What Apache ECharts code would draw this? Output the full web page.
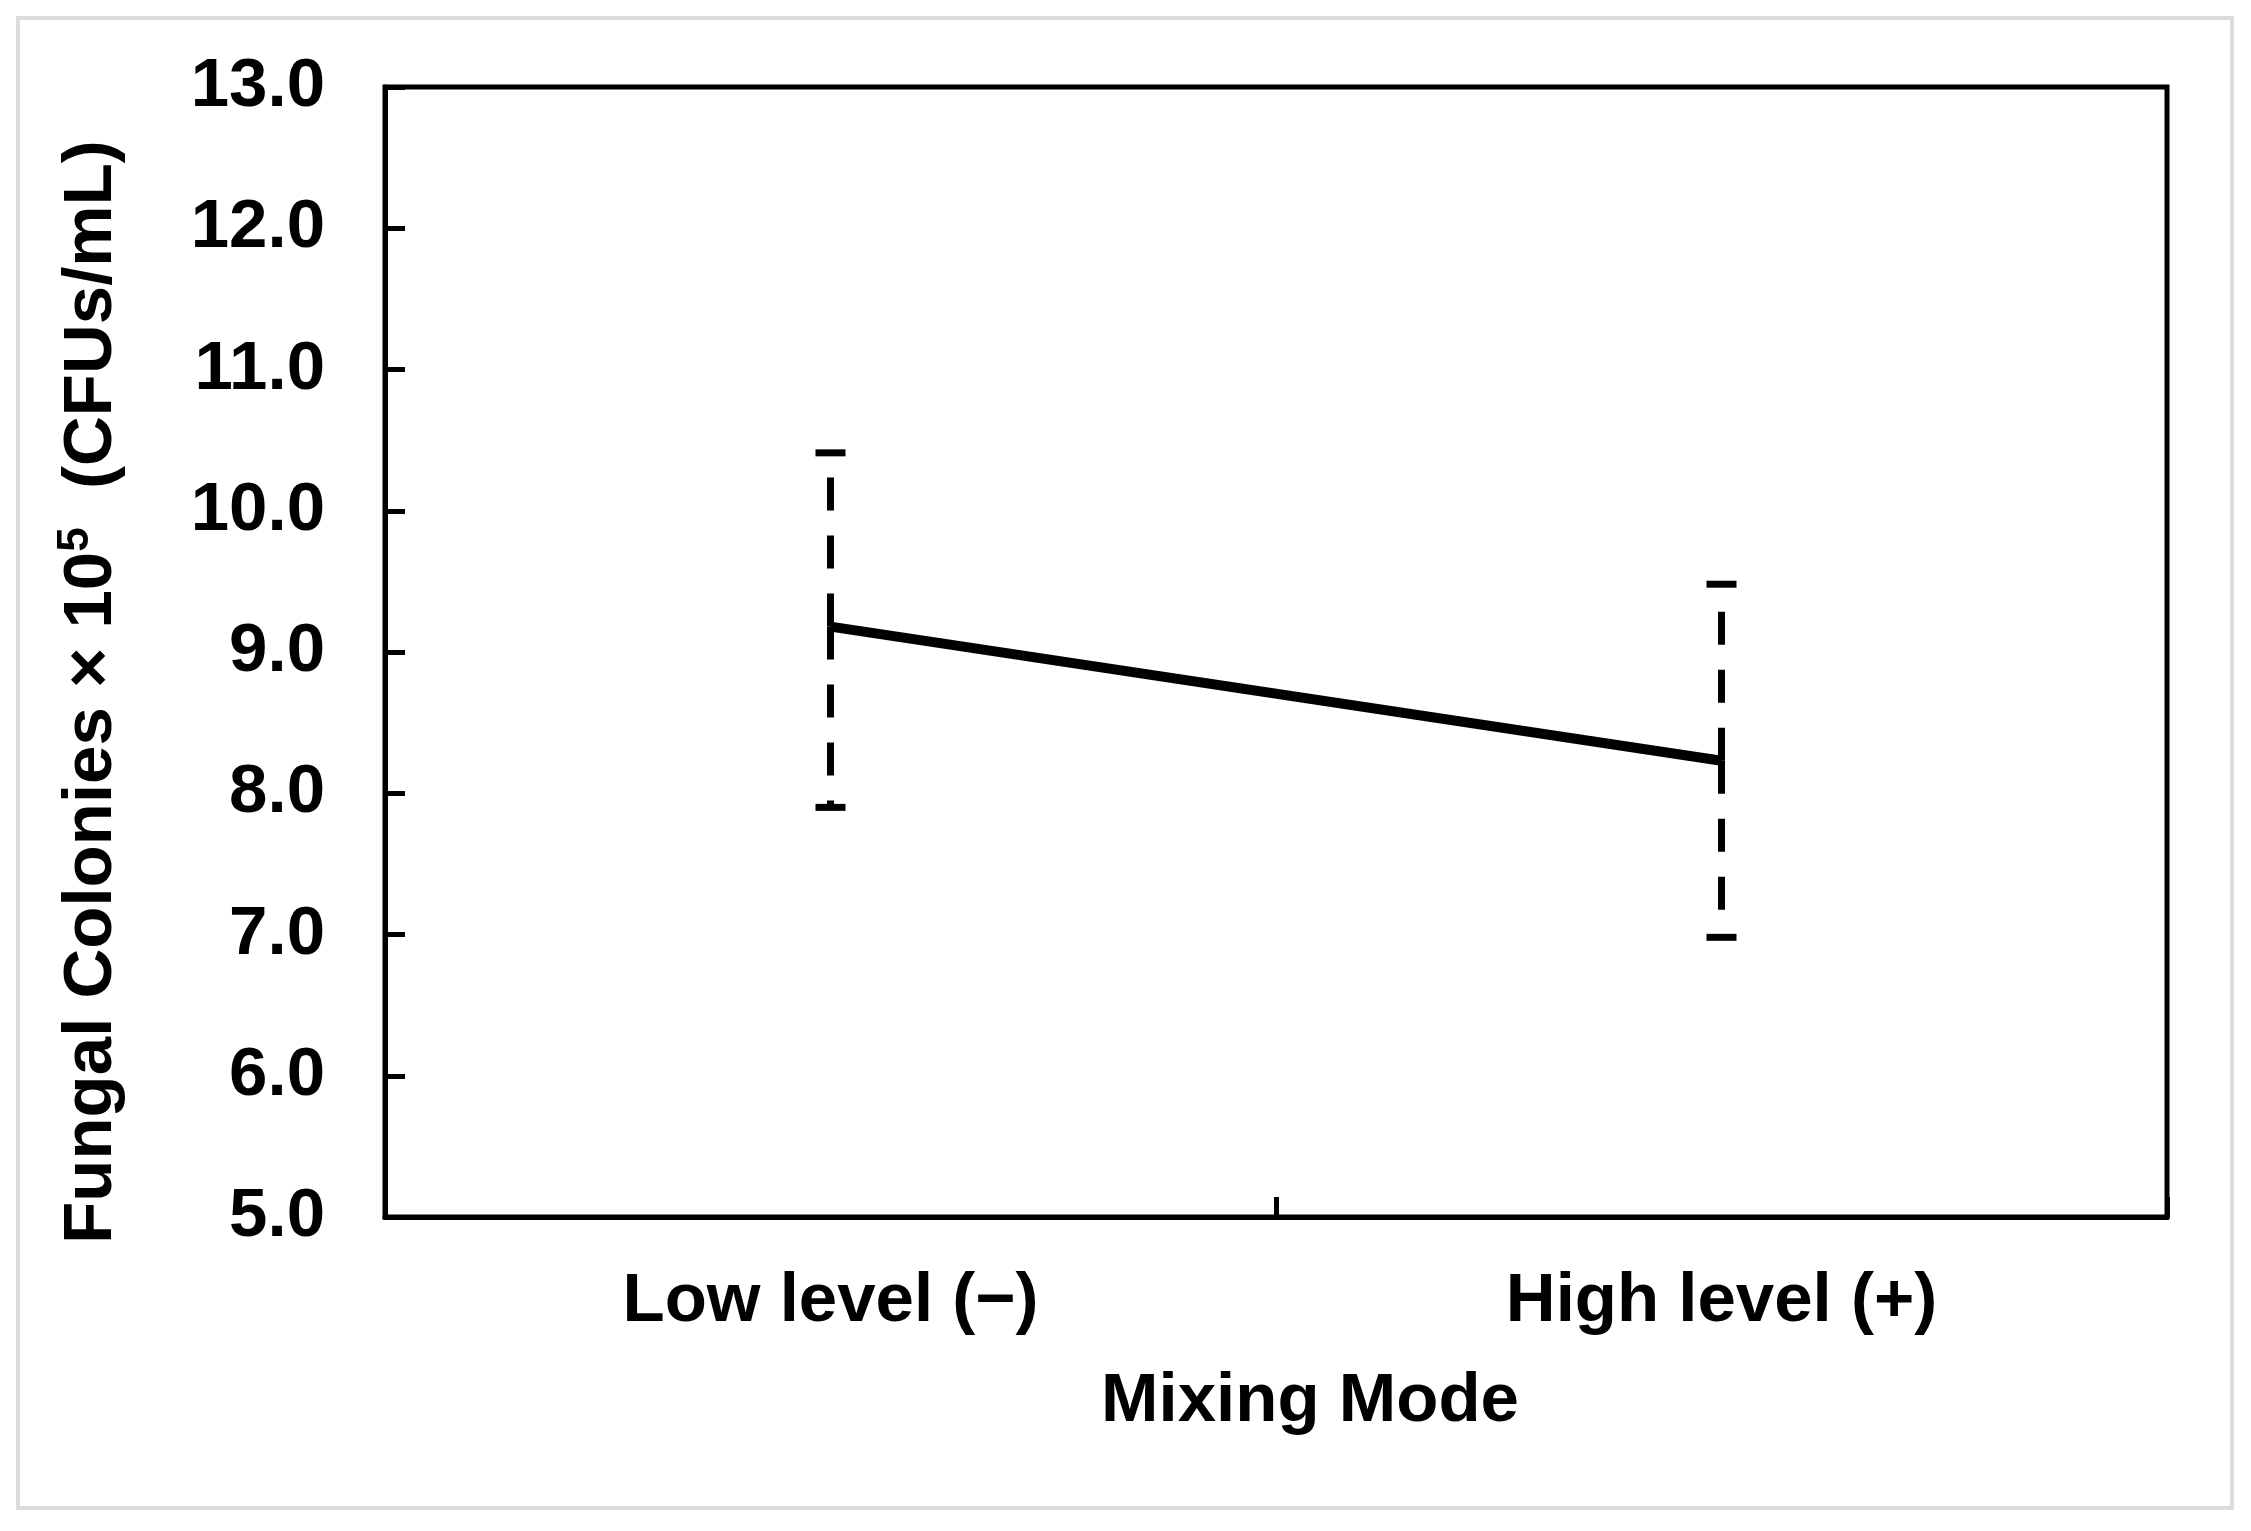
<!DOCTYPE html>
<html>
<head>
<meta charset="utf-8">
<script src="https://cdn.jsdelivr.net/npm/echarts@6/dist/echarts.min.js"></script>
<style>
html,body{margin:0;padding:0;background:#fff;}
#c{width:2251px;height:1531px;}
</style>
</head>
<body>
<div id="c"></div>
<script>
var categories = ['Low level (\u2212)', 'High level (+)'];
var means = [9.18, 8.23];
var upperVals = [10.41, 9.48];
var lowerVals = [7.90, 6.98];
var yTicks = {min: 5, max: 13, interval: 1};
var xTitle = 'Mixing Mode';

var FONT = "'Liberation Sans', Arial, Helvetica, sans-serif";
var chart = echarts.init(document.getElementById('c'));

var errData = categories.map(function (c, i) { return [i, means[i], lowerVals[i], upperVals[i]]; });

chart.setOption({
  backgroundColor: '#fff',
  animation: false,
  graphic: [{
    type: 'rect', silent: true, z: -10,
    shape: {x: 18, y: 18, width: 2214, height: 1490},
    style: {fill: 'none', stroke: '#dcdcdc', lineWidth: 4}
  }],
  grid: {left: 385, right: 84, top: 87, bottom: 314, show: true, borderColor: '#000', borderWidth: 5, backgroundColor: 'transparent'},
  xAxis: {
    type: 'category',
    data: categories,
    boundaryGap: true,
    name: xTitle,
    nameLocation: 'middle',
    nameGap: 150,
    nameTextStyle: {fontFamily: FONT, fontWeight: 'bold', fontSize: 69, color: '#000', padding: [0, 0, 0, 68]},
    axisLine: {lineStyle: {color: '#000', width: 5}},
    axisTick: {show: true, inside: true, length: 20, lineStyle: {color: '#000', width: 5}},
    axisLabel: {fontFamily: FONT, fontWeight: 'bold', fontSize: 69, color: '#000', margin: 50},
    splitLine: {show: false}
  },
  yAxis: {
    type: 'value',
    min: yTicks.min, max: yTicks.max, interval: yTicks.interval,
    name: 'Fungal Colonies \u00d7 10{sup|5}  (CFUs/mL)',
    nameLocation: 'middle',
    nameGap: 255,
    nameRotate: 90,
    nameTextStyle: {
      fontFamily: FONT, fontWeight: 'bold', fontSize: 69, color: '#000', padding: [0, 80, 0, 0],
      rich: {sup: {fontFamily: FONT, fontWeight: 'bold', fontSize: 44, color: '#000', verticalAlign: 'top', padding: [0, 0, 32, 0]}}
    },
    axisLine: {show: true, lineStyle: {color: '#000', width: 5}},
    axisTick: {show: true, inside: true, length: 20, lineStyle: {color: '#000', width: 5}},
    axisLabel: {fontFamily: FONT, fontWeight: 'bold', fontSize: 69, color: '#000', margin: 60,
      formatter: function (v) { return v.toFixed(1); }},
    splitLine: {show: false}
  },
  series: [{
    type: 'line',
    data: means,
    symbol: 'none',
    lineStyle: {color: '#000', width: 10},
    z: 3
  }, {
    type: 'custom',
    data: errData,
    z: 4,
    renderItem: function (params, api) {
      var x = api.value(0);
      var m = api.coord([x, api.value(1)]);
      var lo = api.coord([x, api.value(2)]);
      var hi = api.coord([x, api.value(3)]);
      var capW = 15;
      var dashStyle = {stroke: '#000', lineWidth: 7, lineDash: [33, 25], fill: 'none'};
      var capStyle = {stroke: '#000', lineWidth: 7, fill: 'none'};
      return {
        type: 'group',
        children: [
          {type: 'line', shape: {x1: m[0], y1: m[1], x2: hi[0], y2: hi[1]}, style: dashStyle},
          {type: 'line', shape: {x1: m[0], y1: m[1], x2: lo[0], y2: lo[1]}, style: dashStyle},
          {type: 'line', shape: {x1: hi[0] - capW, y1: hi[1], x2: hi[0] + capW, y2: hi[1]}, style: capStyle},
          {type: 'line', shape: {x1: lo[0] - capW, y1: lo[1], x2: lo[0] + capW, y2: lo[1]}, style: capStyle}
        ]
      };
    }
  }]
});
</script>
</body>
</html>
